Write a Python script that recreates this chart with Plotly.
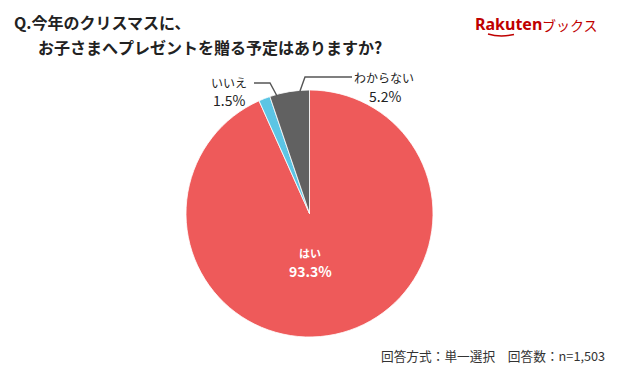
import plotly.graph_objects as go

labels = ["はい", "いいえ", "わからない"]
values = [93.3, 1.5, 5.2]
colors = ["#EE5A5A", "#5CC5E4", "#616161"]

title_lines = ["Q.今年のクリスマスに、", "お子さまへプレゼントを贈る予定はありますか?"]
footer = "回答方式：単一選択　回答数：n=1,503"

# page body has an 8px default margin, so the figure is drawn 8px in from the window edge
OFF = 8
W, H = 620 - OFF, 374 - OFF
FONT = "Noto Sans CJK JP"


def px(x):
    return (x - OFF) / W


def py(y):
    return 1 - (y - OFF) / H


fig = go.Figure(go.Pie(
    labels=labels,
    values=values,
    marker=dict(colors=colors, line=dict(color="white", width=0.8)),
    sort=False,
    direction="clockwise",
    rotation=0,
    textinfo="none",
    hoverinfo="label+percent",
    domain=dict(x=[px(186), px(433)], y=[py(337), py(90)]),
    showlegend=False,
))

ann = []
# title
ann.append(dict(x=px(12), y=py(22), text="<b>" + title_lines[0] + "</b>", xanchor="left", yanchor="middle",
                font=dict(size=16, color="#222", family=FONT)))
ann.append(dict(x=px(36), y=py(47), text="<b>" + title_lines[1] + "</b>", xanchor="left", yanchor="middle",
                font=dict(size=16, color="#222", family=FONT)))
# logo
ann.append(dict(x=px(473), y=py(24), text="<b>Rakuten</b>", xanchor="left", yanchor="middle",
                font=dict(size=16, color="#BF0000", family="Noto Sans")))
ann.append(dict(x=px(540), y=py(25), text="ブックス", xanchor="left", yanchor="middle",
                font=dict(size=14, color="#BF0000", family=FONT)))
# slice labels
ann.append(dict(x=px(310), y=py(253), text="<b>" + labels[0] + "</b>", xanchor="center", yanchor="middle",
                font=dict(size=11, color="white", family=FONT)))
ann.append(dict(x=px(310), y=py(271), text="<b>%.1f%%</b>" % values[0], xanchor="center", yanchor="middle",
                font=dict(size=14, color="white", family=FONT)))
ann.append(dict(x=px(229), y=py(82), text=labels[1], xanchor="center", yanchor="middle",
                font=dict(size=12, color="#222", family=FONT)))
ann.append(dict(x=px(229), y=py(100), text="%.1f%%" % values[1], xanchor="center", yanchor="middle",
                font=dict(size=14, color="#222", family=FONT)))
ann.append(dict(x=px(384), y=py(77), text=labels[2], xanchor="center", yanchor="middle",
                font=dict(size=12, color="#222", family=FONT)))
ann.append(dict(x=px(385), y=py(96), text="%.1f%%" % values[2], xanchor="center", yanchor="middle",
                font=dict(size=14, color="#222", family=FONT)))
# footer
ann.append(dict(x=px(607), y=py(355), text=footer, xanchor="right", yanchor="middle",
                font=dict(size=12.7, color="#333", family=FONT)))
for a in ann:
    a.update(xref="paper", yref="paper", showarrow=False)

shapes = []
lc = dict(color="#555", width=1.4)
# いいえ leader
shapes.append(dict(type="path", xref="paper", yref="paper",
                   path="M %f %f L %f %f L %f %f" % (px(254), py(83), px(270), py(83), px(277), py(96)),
                   line=lc))
# わからない leader
shapes.append(dict(type="path", xref="paper", yref="paper",
                   path="M %f %f L %f %f L %f %f" % (px(352), py(77), px(305), py(77), px(300), py(91)),
                   line=lc))
# logo swoosh
shapes.append(dict(type="path", xref="paper", yref="paper",
                   path="M %f %f Q %f %f %f %f" % (px(488), py(34), px(500), py(37.5), px(514), py(34.5)),
                   line=dict(color="#BF0000", width=1.5)))

fig.update_layout(
    width=W, height=H,
    margin=dict(l=0, r=0, t=0, b=0),
    paper_bgcolor="white",
    plot_bgcolor="white",
    annotations=ann,
    shapes=shapes,
)

fig.write_html("out.html")
